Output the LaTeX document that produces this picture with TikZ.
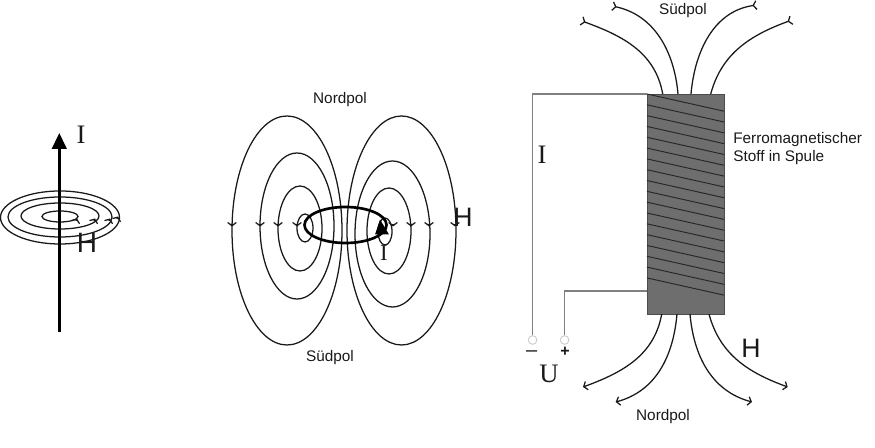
\documentclass[tikz,border=0pt]{standalone}
\usepackage{fontspec}
\setmainfont{Liberation Sans}
\newfontfamily\timesfont{Liberation Serif}
\usetikzlibrary{arrows.meta}
\tikzset{
fieldline/.style={line width=0.95pt,black!90},
fieldout/.style={fieldline,-{Straight Barb[length=2.4pt,width=6.5pt]}},
fieldin/.style={fieldline,{Straight Barb[reversed,length=2.4pt,width=6.5pt]}-},
wire/.style={line width=0.85pt,black!50},
terminal/.style={circle,draw=black!20,line width=0.7pt,minimum size=6.5pt,inner sep=0pt},
poltext/.style={font=\fontsize{11.5}{13.5}\selectfont,text=black!90,inner sep=0pt},
bigH/.style={font=\fontsize{20}{20}\selectfont,text=black!90,inner sep=0pt},
bigI/.style={font=\timesfont\fontsize{20}{20}\selectfont,text=black!90,inner sep=0pt},
corebox/.style={draw=black!70,fill=black!57,line width=0.7pt,minimum width=57.75pt,minimum height=165pt,inner sep=0pt,outer sep=0pt}
}
\begin{document}
\begin{tikzpicture}[x=0.75pt,y=0.75pt]
\useasboundingbox (0,0) rectangle (875,448);
%wire with rings
\foreach \rx/\ry/\cy in {59.5/26.5/230.5,52/20/231,39/13/232,18/5.5/231.5}
\draw[fieldline](60,\cy) ellipse [x radius=\rx,y radius=\ry];
\foreach \tx/\ty in {77/229,95/229,110/229,118/231}
\draw[fieldout](\tx-1,\ty-2)--++(1,2.5);
\coordinate(wireS) at (59.3,116);
\coordinate(wireE) at (59.3,315);
\draw[line width=1.8pt,-{Triangle[length=12pt,width=11pt]}](wireS)--(wireE);
\node[bigI](iA) at (81,313){I};
\node[bigH,font=\fontsize{21}{21}\selectfont](hA) at (87,205){H};
%loop
\foreach \cx/\cy/\rx/\ry in {287/217.5/55/114.5,297/222/37/73,300/219.5/22/42.5,305/220/8/14,401.5/217.5/54.5/114.5,392.5/214/37.5/73,389/217/22/43,385/216.5/7/13.5}
\draw[fieldline](\cx,\cy) ellipse [x radius=\rx,y radius=\ry];
\foreach \tx in {232,260,278,297,393,411,429,455}
\draw[fieldout](\tx,224)--++(0,-2.5);
\draw[line width=2pt](345.5,223) ellipse [x radius=41,y radius=18];
\fill (380,228.5)--(375,213.5)--(389,213.5)--cycle;
\node[bigI,font=\timesfont\fontsize{17}{17}\selectfont](iB) at (384,195){I};
\node[bigH](hB) at (463,231){H};
\node[poltext](nordB) at (340,348){Nordpol};
\node[poltext](suedB) at (330,90){Südpol};
%core
\node[corebox](core) at (685.5,244){};
\foreach \i in {0,...,17}
\draw[line width=0.7pt,black!85]([yshift=-\i*8.115pt]core.north west)--([yshift=-\i*8.115pt-12.9pt]core.north east);
\node[terminal](minusT) at (532.6,108){};
\node[terminal](plusT) at (564.6,108){};
\draw[wire](core.north west)--(minusT|-core.north west)--(minusT);
\coordinate(kP) at (647.3,157);
\draw[wire](kP)--(plusT|-kP)--(plusT);
%top field
\coordinate(topA) at (581,427.3);
\coordinate(topB) at (612,442);
\coordinate(topC) at (757,443);
\coordinate(topD) at (792,428);
\draw[fieldin](topA) to [out=-20, in=100](662.7,354);
\draw[fieldin](topB) to [out=-12, in=95](678,354);
\draw[fieldin](topC) to [out=188, in=85](691,354);
\draw[fieldin](topD) to [out=200, in=75](710.7,354);
%bottom field
\coordinate(botA) at (583,61);
\coordinate(botB) at (615.7,46);
\coordinate(botC) at (752,46);
\coordinate(botD) at (787.7,61);
\draw[fieldout](661.7,134) to [out=-100, in=20](botA);
\draw[fieldout](677,134) to [out=-95, in=15](botB);
\draw[fieldout](690,134) to [out=-85, in=165](botC);
\draw[fieldout](709,134) to [out=-75, in=160](botD);
%labels
\node[poltext](suedC) at (683,437){Südpol};
\node[poltext](nordC) at (663,31){Nordpol};
\node[poltext,anchor=west,align=left](stoff) at (733,299){Ferromagnetischer\\Stoff in Spule};
\node[bigI](iC) at (542,293){I};
\node[bigH](hC) at (751,100){H};
\node[bigI](uC) at (549,74){U};
\node[poltext,font=\fontsize{15}{15}\selectfont](minusL) at (531.7,94){--};
\node[poltext,font=\bfseries\fontsize{12}{12}\selectfont](plusL) at (565,96){+};
\end{tikzpicture}
\end{document}
